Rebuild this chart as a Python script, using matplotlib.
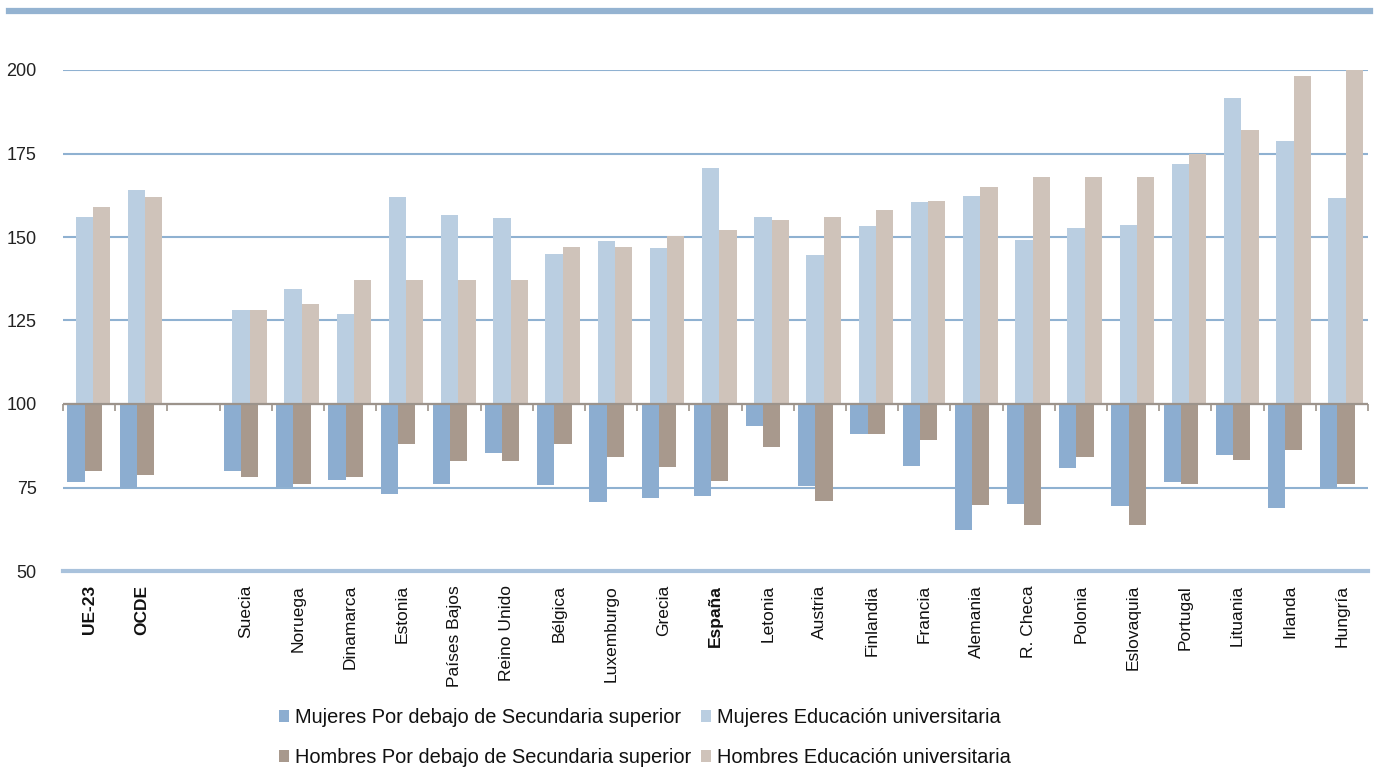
import matplotlib
matplotlib.use("Agg")
import matplotlib.pyplot as plt
from matplotlib.lines import Line2D
import numpy as np

categories = ["UE-23", "OCDE", "", "Suecia", "Noruega", "Dinamarca", "Estonia",
              "Países Bajos", "Reino Unido", "Bélgica", "Luxemburgo", "Grecia",
              "España", "Letonia", "Austria", "Finlandia", "Francia", "Alemania",
              "R. Checa", "Polonia", "Eslovaquia", "Portugal", "Lituania",
              "Irlanda", "Hungría"]
bold_labels = ["UE-23", "OCDE", "España"]

mujeres_bajo = [76.7, 75.0, None, 80.0, 75.2, 77.1, 73.2, 75.9, 85.4, 75.7, 70.6,
                71.9, 72.6, 93.4, 75.4, 91.1, 81.4, 62.4, 70.1, 80.9, 69.4, 76.5,
                84.7, 69.0, 75.0]
mujeres_univ = [156.0, 164.1, None, 128.0, 134.5, 127.0, 162.0, 156.7, 155.8, 144.9,
                148.9, 146.6, 170.6, 156.0, 144.7, 153.4, 160.6, 162.3, 149.2, 152.6,
                153.7, 172.0, 191.7, 178.6, 161.7]
hombres_bajo = [80.0, 78.8, None, 78.0, 75.9, 78.0, 87.9, 83.0, 83.0, 87.9, 84.1,
                81.1, 77.0, 87.1, 70.9, 91.1, 89.1, 69.9, 63.9, 84.1, 63.9, 76.0,
                83.1, 86.1, 76.0]
hombres_univ = [159.0, 162.0, None, 128.0, 129.9, 137.0, 137.0, 137.0, 137.0, 147.0,
                147.0, 150.2, 152.0, 155.0, 156.0, 158.0, 160.9, 165.0, 168.0, 168.0,
                168.0, 174.8, 182.1, 198.3, 200.0]

series_labels = ["Mujeres Por debajo de Secundaria superior",
                 "Mujeres Educación universitaria",
                 "Hombres Por debajo de Secundaria superior",
                 "Hombres Educación universitaria"]
colors = ["#8cadd0", "#bacee1", "#a8998d", "#cfc3ba"]
baseline = 100

FONT = ["Liberation Sans", "DejaVu Sans"]

fig = plt.figure(figsize=(13.78, 7.75), dpi=100)
ax = fig.add_axes([63 / 1378, 1 - 571 / 775, (1368 - 63) / 1378, (571 - 70) / 775])

x = np.arange(len(categories))
w = 0.33

def arr(v):
    return np.array([np.nan if a is None else a for a in v], dtype=float)

mb, mu, hb, hu = arr(mujeres_bajo), arr(mujeres_univ), arr(hombres_bajo), arr(hombres_univ)

b1 = ax.bar(x - 0.252, mb - baseline, w, bottom=baseline, color=colors[0], zorder=3, label=series_labels[0])
b2 = ax.bar(x - 0.092, mu - baseline, w, bottom=baseline, color=colors[1], zorder=3, label=series_labels[1])
b3 = ax.bar(x + 0.078, hb - baseline, w, bottom=baseline, color=colors[2], zorder=3, label=series_labels[2])
b4 = ax.bar(x + 0.238, hu - baseline, w, bottom=baseline, color=colors[3], zorder=3, label=series_labels[3])

ax.set_xlim(-0.5, len(categories) - 0.5)
ax.set_ylim(50, 200)
ax.set_yticks([50, 75, 100, 125, 150, 175, 200])
ax.yaxis.grid(True, color="#8fb1d1", linewidth=1.5, zorder=0)
ax.set_axisbelow(True)
ax.axhline(baseline, color="#9c938b", linewidth=1.6, zorder=4)

for s in ["top", "right", "left"]:
    ax.spines[s].set_visible(False)
ax.spines["bottom"].set_color("#a9c2dc")
ax.spines["bottom"].set_linewidth(3)

ax.tick_params(axis="y", length=0, pad=19)
for lab in ax.get_yticklabels():
    lab.set_fontfamily(FONT)
    lab.set_fontsize(13)
    lab.set_color("#222222")

ax.set_xticks(x)
ax.set_xticklabels(categories, rotation=90, va="top", ha="center")
ax.tick_params(axis="x", length=0, pad=10)
for lab in ax.get_xticklabels():
    lab.set_fontfamily(FONT)
    lab.set_fontsize(12.5)
    lab.set_color("#111111")
    if lab.get_text() in bold_labels:
        lab.set_fontweight("bold")
        lab.set_fontsize(12.5)

# tick marks on the baseline at category boundaries
ax2 = ax.twiny()
ax2.set_xlim(ax.get_xlim())
for s in ["top", "right", "left", "bottom"]:
    ax2.spines[s].set_visible(False)
ax2.spines["bottom"].set_position(("data", baseline))
ax2.xaxis.set_ticks_position("bottom")
ax2.set_xticks(np.arange(len(categories) + 1) - 0.5)
ax2.tick_params(axis="x", direction="out", length=5, width=1.2, color="#9c938b", labelbottom=False, labeltop=False)

# decorative top rule
fig.add_artist(Line2D([9 / 1378, 1370 / 1378], [1 - 11 / 775, 1 - 11 / 775],
                      color="#94b3d1", linewidth=4.5, transform=fig.transFigure))

leg = fig.legend(handles=[b1, b3, b2, b4],
                 labels=[series_labels[0], series_labels[2], series_labels[1], series_labels[3]],
                 ncol=2, loc="upper center", bbox_to_anchor=(645 / 1378, 1 - 704 / 775),
                 frameon=False, prop={"family": FONT, "size": 14.4},
                 handlelength=0.5, handleheight=0.5, handletextpad=0.3,
                 columnspacing=0.5, labelspacing=1.05, borderaxespad=0, borderpad=0.2)
for t in leg.get_texts():
    t.set_color("#111111")

fig.savefig("out.png", dpi=100)
